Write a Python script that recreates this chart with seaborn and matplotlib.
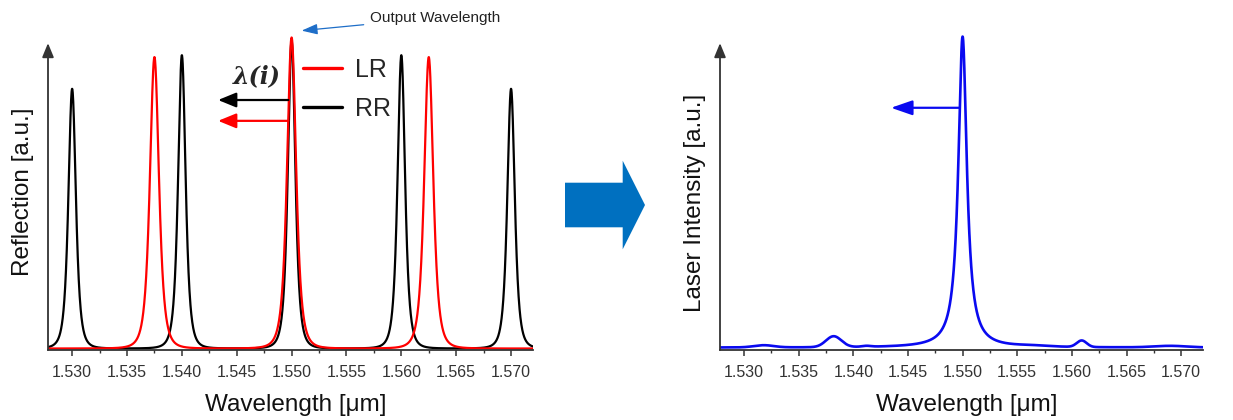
import numpy as np
import pandas as pd
import seaborn as sns
import matplotlib.pyplot as plt
from matplotlib.lines import Line2D
from matplotlib.patches import Polygon
from matplotlib.ticker import MultipleLocator

# ---- resonances of the two ring reflectors ----
rr_centers = [1.530, 1.540, 1.550, 1.560, 1.570]
rr_heights = [0.835, 0.943, 0.99, 0.943, 0.835]
rr_hwhm = 0.00062

lr_centers = [1.5375, 1.550, 1.5625]
lr_heights = [0.937, 1.0, 0.937]
lr_hwhm = 0.00075

# ---- lasing spectrum: main line and weak side modes ----
laser_line_center = 1.550
laser_line_height = 1.0
laser_line_hwhm = 0.00047
side_centers = [1.5318, 1.5382, 1.5412, 1.5565, 1.5609, 1.5690]
side_heights = [0.007, 0.035, 0.003, 0.003, 0.021, 0.005]
side_sigmas = [0.0009, 0.0007, 0.0004, 0.0015, 0.00045, 0.0015]
laser_floor = 0.003

tick_values = [1.530, 1.535, 1.540, 1.545, 1.550, 1.555, 1.560, 1.565, 1.570]
tick_labels = ["1.530", "1.535", "1.540", "1.545", "1.550", "1.555",
               "1.560", "1.565", "1.570"]
x_range = (1.5278, 1.5720)

wl = np.linspace(x_range[0], x_range[1], 3000)


def ring_response(centers, heights, hwhm):
    out = np.zeros_like(wl)
    for c, h in zip(centers, heights):
        out += h / (1.0 + ((wl - c) / hwhm) ** 2) ** 2
    return out


laser = laser_floor + laser_line_height / (1.0 + ((wl - laser_line_center) / laser_line_hwhm) ** 2)
for c, h, s in zip(side_centers, side_heights, side_sigmas):
    laser += h * np.exp(-0.5 * ((wl - c) / s) ** 2)

df_rings = pd.concat([
    pd.DataFrame({"wl": wl, "val": ring_response(rr_centers, rr_heights, rr_hwhm), "ring": "RR"}),
    pd.DataFrame({"wl": wl, "val": ring_response(lr_centers, lr_heights, lr_hwhm), "ring": "LR"}),
])
df_laser = pd.DataFrame({"wl": wl, "val": laser})

sns.set_theme(style="white")
plt.rcParams["font.family"] = ["Liberation Sans", "DejaVu Sans"]

W, H = 1233, 420
fig = plt.figure(figsize=(W / 100, H / 100), dpi=100)
ax1 = fig.add_axes([48 / W, 1 - 350 / H, 485 / W, 320 / H])
ax2 = fig.add_axes([720 / W, 1 - 350 / H, 483 / W, 320 / H])

sns.lineplot(data=df_rings, x="wl", y="val", hue="ring", hue_order=["RR", "LR"],
             palette={"RR": "black", "LR": "#ff0000"}, estimator=None,
             linewidth=1.6, legend=False, ax=ax1)
sns.lineplot(data=df_laser, x="wl", y="val", color="#0a0af0", estimator=None,
             linewidth=1.9, ax=ax2)

axis_color = "#333333"
ylo, yhi = -0.0048, 1.0241
for ax, ylab, ylab_y in [(ax1, "Reflection [a.u.]", 0.494),
                         (ax2, "Laser Intensity [a.u.]", 0.46)]:
    ax.set_xlim(*x_range)
    ax.set_ylim(ylo, yhi)
    ax.set_facecolor("none")
    for side in ["top", "right", "left"]:
        ax.spines[side].set_visible(False)
    ax.spines["bottom"].set_color(axis_color)
    ax.spines["bottom"].set_linewidth(1.3)
    ax.set_xticks(tick_values)
    ax.set_xticklabels(tick_labels)
    ax.xaxis.set_minor_locator(MultipleLocator(0.0025))
    ax.tick_params(axis="x", which="major", direction="out", length=4.5, width=1.1,
                   color=axis_color, labelsize=11.5, labelcolor="#333333", pad=6.5,
                   bottom=True)
    ax.tick_params(axis="x", which="minor", direction="out", length=2.5, width=1.0,
                   color=axis_color, bottom=True)
    ax.set_yticks([])
    ax.set_xlabel("Wavelength [μm]", fontsize=17.5, labelpad=10, color="#111111")
    ax.xaxis.label.set_x(0.51)
    ax.set_ylabel(ylab, fontsize=17.5, labelpad=10, color="#111111")
    ax.yaxis.label.set_y(ylab_y)
    # vertical axis drawn as an arrow
    ax.annotate("", xy=(0, 0.959), xytext=(0, 0), xycoords="axes fraction",
                arrowprops=dict(arrowstyle="-|>,head_length=0.85,head_width=0.35",
                                color=axis_color, lw=1.3, mutation_scale=10,
                                shrinkA=0, shrinkB=0),
                annotation_clip=False)

# tuning arrows on the reflection plot
arrow_style = "-|>,head_length=1.1,head_width=0.45"
ax1.annotate("", xy=(1.5433, 0.799), xytext=(1.5497, 0.799),
             arrowprops=dict(arrowstyle=arrow_style, color="black", lw=1.6,
                             mutation_scale=10, shrinkA=0, shrinkB=0))
ax1.annotate("", xy=(1.5433, 0.732), xytext=(1.5497, 0.732),
             arrowprops=dict(arrowstyle=arrow_style, color="#ff0000", lw=1.6,
                             mutation_scale=10, shrinkA=0, shrinkB=0))
ax1.text(1.5468, 0.876, "λ(i)", fontsize=17, family="DejaVu Serif",
         style="italic", weight="bold", ha="center", va="center")

ax1.legend(handles=[Line2D([], [], color="#ff0000", lw=2.4),
                    Line2D([], [], color="black", lw=2.4)],
           labels=["LR", "RR"], loc="upper left", bbox_to_anchor=(0.526, 0.912),
           frameon=False, fontsize=18, handlelength=1.56, handletextpad=0.52,
           labelspacing=0.6, borderpad=0, borderaxespad=0)

# pointer to the lasing line
ax1.annotate("Output Wavelength", xy=(1.55091, 1.022), xytext=(1.55712, 1.063),
             fontsize=11, color="#222222", va="center", ha="left",
             arrowprops=dict(arrowstyle="-|>,head_length=1.2,head_width=0.4",
                             color="#1e6ec8", lw=0.9, mutation_scale=8,
                             shrinkA=2, shrinkB=0),
             annotation_clip=False)

# mode-hop arrow on the laser spectrum
ax2.annotate("", xy=(1.54345, 0.774), xytext=(1.54973, 0.774),
             arrowprops=dict(arrowstyle="-|>,head_length=1.3,head_width=0.45",
                             color="#0a0af0", lw=1.6, mutation_scale=10,
                             shrinkA=0, shrinkB=0))

# block arrow between the panels
arrow_px = [(565, 182.7), (622.7, 182.7), (622.7, 160.7), (645, 205),
            (622.7, 249.3), (622.7, 227.3), (565, 227.3)]
fig.patches.append(Polygon([(x / W, 1 - y / H) for x, y in arrow_px], closed=True,
                           transform=fig.transFigure, facecolor="#0070c0",
                           edgecolor="none"))

fig.savefig("out.png", dpi=100)
